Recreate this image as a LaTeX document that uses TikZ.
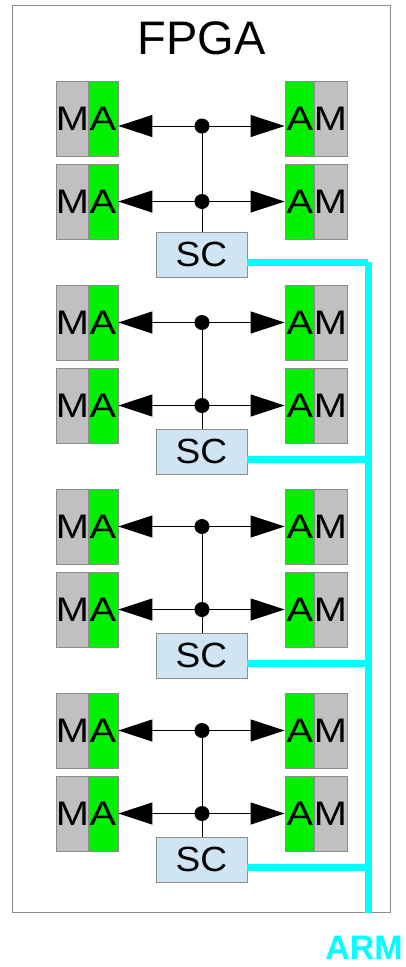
\documentclass[tikz,border=0pt]{standalone}
\usepackage{graphicx}
\usepackage{fontspec}
\setmainfont{Liberation Sans}
\usetikzlibrary{arrows.meta}
\definecolor{boxgray}{HTML}{C0C0C0}
\definecolor{agreen}{HTML}{00F000}
\definecolor{scblue}{HTML}{CFE5F3}
\definecolor{edgegray}{HTML}{8C8C8C}
\definecolor{armcyan}{HTML}{00FFFF}
\newcommand{\widelet}[1]{\scalebox{1.17}[1]{#1}}
\begin{document}
\begin{tikzpicture}[x=1pt,y=-1pt,
  mbox/.style={draw=edgegray, line width=0.8pt, fill=boxgray, minimum width=31pt, minimum height=75pt, inner sep=0pt, font=\fontsize{34}{34}\selectfont},
  abox/.style={mbox, fill=agreen, minimum width=30pt},
  scbox/.style={draw=edgegray, line width=0.8pt, fill=scblue, minimum width=91pt, minimum height=45pt, inner sep=0pt, font=\fontsize{35}{35}\selectfont},
  link/.style={line width=1pt, -{Triangle[length=34pt,width=22pt]}},
  wire/.style={line width=1pt},
  junction/.style={circle, fill=black, inner sep=0pt, minimum size=15pt},
  bus/.style={armcyan, line width=7pt}]
\useasboundingbox (0,0) rectangle (406,967);
\node[draw=edgegray, line width=1pt, minimum width=378pt, minimum height=907pt, inner sep=0pt, anchor=north west] (fpga) at (12,5) {};
\node[font=\fontsize{47}{47}\selectfont, anchor=base, inner sep=0pt] (title) at (201.5,54) {FPGA};
\foreach \b/\la/\sct/\cy in {0/126/232/262, 1/322.5/429/459, 2/526.5/633/663, 3/730.5/837/867}{
  \pgfmathsetmacro{\ya}{118.5+204*\b}
  \pgfmathsetmacro{\yb}{201.5+204*\b}
  \node[mbox] (ml\b-1) at (72.5,\ya) {\widelet{M}};
  \node[abox] (al\b-1) at (103,\ya) {\widelet{A}};
  \node[abox] (ar\b-1) at (300,\ya) {\widelet{A}};
  \node[mbox] (mr\b-1) at (330.5,\ya) {\widelet{M}};
  \node[mbox] (ml\b-2) at (72.5,\yb) {\widelet{M}};
  \node[abox] (al\b-2) at (103,\yb) {\widelet{A}};
  \node[abox] (ar\b-2) at (300,\yb) {\widelet{A}};
  \node[mbox] (mr\b-2) at (330.5,\yb) {\widelet{M}};
  \node[scbox, anchor=north] (sc\b) at (201.5,\sct) {\scalebox{1.06}[1]{SC}};
  \coordinate (ja\b) at (202,\la);
  \coordinate (jb\b) at (202,\yb);
  \draw[link] (ja\b) -- (ja\b -| al\b-1.east);
  \draw[link] (ja\b) -- (ja\b -| ar\b-1.west);
  \draw[link] (jb\b) -- (jb\b -| al\b-2.east);
  \draw[link] (jb\b) -- (jb\b -| ar\b-2.west);
  \draw[wire] (ja\b) -- (ja\b |- sc\b.north);
  \node[junction] (da\b) at (ja\b) {};
  \node[junction] (db\b) at (jb\b) {};
  \coordinate (bj\b) at (368,\cy);
  \draw[bus] (sc\b.east |- bj\b) -- (bj\b);
}
\coordinate (busbot) at (368,913);
\draw[bus] (bj0) -- (busbot);
\node[font=\bfseries\fontsize{34}{34}\selectfont, text=armcyan, anchor=base east, inner sep=0pt] (arm) at (403,959) {ARM};
\end{tikzpicture}
\end{document}
